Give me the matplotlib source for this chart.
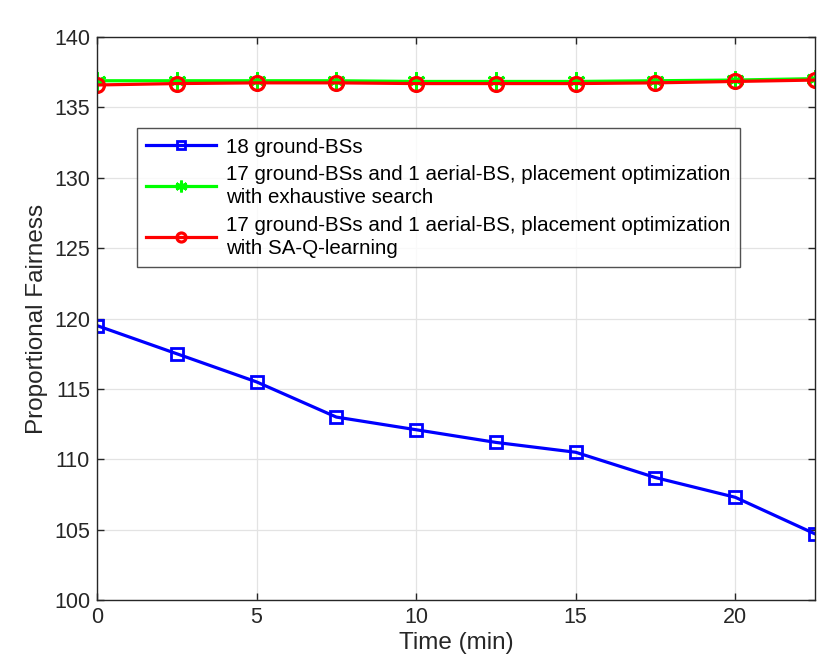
import matplotlib
matplotlib.use("Agg")
import matplotlib.pyplot as plt

plt.rcParams['font.family'] = ['Liberation Sans', 'DejaVu Sans']

time_min = [0, 2.5, 5, 7.5, 10, 12.5, 15, 17.5, 20, 22.5]
ground18 = [119.5, 117.5, 115.5, 113.0, 112.1, 111.2, 110.5, 108.7, 107.3, 104.7]
exhaustive = [136.9, 136.9, 136.9, 136.9, 136.85, 136.85, 136.85, 136.9, 136.95, 137.05]
saq = [136.6, 136.7, 136.75, 136.75, 136.7, 136.7, 136.7, 136.75, 136.85, 136.95]
labels = ['18 ground-BSs',
          '17 ground-BSs and 1 aerial-BS, placement optimization\nwith exhaustive search',
          '17 ground-BSs and 1 aerial-BS, placement optimization\nwith SA-Q-learning']

fig = plt.figure(figsize=(8.27, 6.63), dpi=100)
ax = fig.add_axes([0.1173, 0.095, 0.8682, 0.849])

ax.plot(time_min, ground18, color='#0000ff', lw=2.3, marker='s', ms=9, mfc='none', mew=2, label=labels[0])
ax.plot(time_min, exhaustive, color='#00ff00', lw=2.3, marker=(6, 2, 0), ms=13, mew=2, label=labels[1])
ax.plot(time_min, saq, color='#ff0000', lw=2.3, marker='o', ms=10, mfc='none', mew=2.3, label=labels[2])

ax.set_xlim(0, 22.5)
ax.set_ylim(100, 140)
ax.set_xticks([0, 5, 10, 15, 20])
ax.set_yticks(range(100, 141, 5))
ax.grid(True, color='#e3e3e3', lw=0.9)
ax.set_axisbelow(True)
ax.tick_params(direction='in', top=True, right=True, labelsize=15.5, length=5, width=1,
               color='#262626', labelcolor='#262626', pad=5)
for s in ax.spines.values():
    s.set_color('#262626')
    s.set_linewidth(1)
ax.set_xlabel('Time (min)', fontsize=17.5, color='#262626', labelpad=3)
ax.set_ylabel('Proportional Fairness', fontsize=17.5, color='#262626', labelpad=4)

leg = ax.legend(loc='upper left', bbox_to_anchor=(0.0557, 0.838), fontsize=14.8, frameon=True,
                fancybox=False, edgecolor='#262626', handlelength=3.4, handletextpad=0.5,
                borderpad=0.45, labelspacing=0.4, markerscale=0.65, borderaxespad=0)
leg.get_frame().set_linewidth(1)
for t in leg.get_texts():
    t.set_linespacing(1.3)

fig.savefig('out.png', dpi=100)
